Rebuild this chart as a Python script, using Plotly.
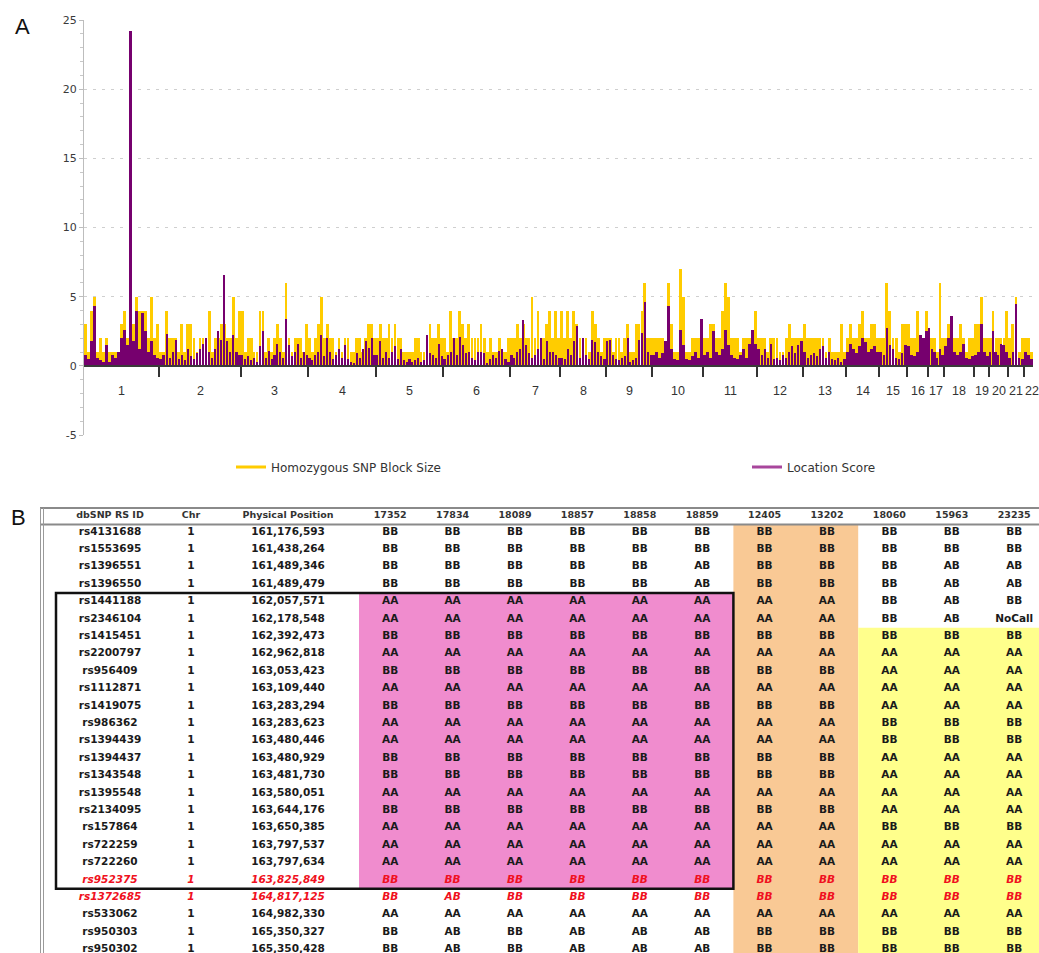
import plotly.graph_objects as go

# ------------------------------------------------------------------ Panel A data
chromosomes = [str(i) for i in range(1, 23)]
chrom_marker_counts = [825, 902, 737, 748, 737, 737, 550, 506, 506, 561, 594,
                       506, 473, 363, 308, 231, 176, 330, 165, 209, 176, 99]

# Homozygous SNP Block Size, samples evenly spaced along each chromosome
homozygous_block_size = [
    [3, 1, 4, 5, 1, 2, 1, 2, 1, 1, 1, 1, 3, 4, 2, 2, 3, 5, 4, 4, 4, 2, 5, 2, 3],
    [1, 1, 4, 2, 2, 2, 1, 3, 1, 3, 3, 2, 1, 2, 2, 2, 4, 1, 2, 2, 3, 3, 2, 2, 5, 2, 4],
    [4, 1, 2, 2, 1, 1, 4, 4, 1, 2, 1, 2, 3, 2, 1, 6, 2, 1, 2, 2, 2, 1, 3],
    [2, 1, 2, 3, 5, 2, 3, 2, 2, 1, 2, 1, 2, 2, 1, 1, 2, 2, 1, 2, 3, 3, 2],
    [2, 3, 2, 2, 3, 2, 3, 2, 2, 1, 1, 1, 1, 2, 2, 1, 1, 2, 3, 2, 2, 3, 2],
    [2, 1, 4, 2, 2, 4, 3, 2, 3, 2, 2, 2, 3, 2, 1, 2, 1, 1, 2, 1, 1, 2],
    [2, 2, 3, 2, 3, 2, 2, 5, 2, 4, 2, 2, 3, 4, 2, 4, 2],
    [4, 2, 4, 2, 4, 3, 2, 2, 2, 1, 4, 3, 2, 1, 2],
    [2, 2, 1, 2, 2, 1, 2, 3, 1, 1, 3, 3, 4, 6, 2, 2],
    [2, 2, 2, 2, 1, 6, 3, 1, 1, 7, 5, 1, 1, 2, 2, 2, 2],
    [2, 2, 3, 3, 2, 2, 4, 6, 5, 2, 2, 2, 1, 2, 2, 2, 1, 4],
    [2, 2, 2, 1, 2, 2, 2, 1, 1, 2, 3, 2, 2, 2, 2],
    [3, 2, 2, 2, 2, 2, 2, 1, 2, 1, 1, 1, 3, 1],
    [2, 3, 2, 2, 3, 4, 2, 2, 3, 3, 2],
    [2, 2, 6, 4, 2, 2, 1, 3, 3],
    [3, 2, 2, 4, 2, 2, 4],
    [2, 2, 2, 1, 6, 2],
    [2, 3, 3, 2, 2, 3, 2, 1, 2, 2],
    [3, 3, 5, 2, 2],
    [2, 4, 2, 2, 2, 2, 4],
    [2, 3, 5, 1, 2],
    [2, 2, 1],
]

# Location Score, same sample positions
location_score = [
    [0.8, 0.5, 1.8, 4.3, 0.6, 0.4, 0.3, 1.5, 0.3, 0.8, 0.6, 1.0, 2.0, 2.6, 1.5, 24.2, 1.8, 4.0, 1.2, 3.8, 2.5, 1.0, 1.8, 0.8, 0.6],
    [0.5, 0.8, 2.3, 0.6, 1.0, 1.9, 0.5, 0.8, 0.4, 1.2, 0.7, 0.5, 0.9, 1.2, 1.6, 2.0, 1.0, 0.6, 1.2, 2.5, 1.9, 6.6, 1.8, 1.0, 2.2, 1.0, 0.8],
    [0.8, 0.5, 0.7, 0.4, 0.6, 0.3, 1.4, 2.5, 0.6, 1.1, 0.5, 0.8, 1.6, 1.0, 0.6, 3.4, 1.5, 0.7, 1.0, 1.6, 0.6, 1.0, 0.8],
    [0.6, 0.4, 0.8, 1.0, 2.2, 0.7, 2.0, 1.0, 0.5, 0.8, 1.2, 0.6, 1.5, 0.5, 0.3, 0.2, 0.9, 0.6, 1.2, 1.8, 1.3, 2.0, 0.8],
    [0.8, 1.8, 0.6, 1.0, 0.6, 1.0, 1.4, 0.5, 1.2, 0.4, 0.3, 0.5, 0.3, 0.4, 0.6, 0.3, 0.4, 2.2, 0.9, 0.8, 0.6, 1.6, 0.7],
    [0.5, 0.8, 1.0, 2.0, 0.8, 2.1, 1.5, 0.9, 1.0, 0.6, 0.4, 1.0, 1.0, 0.9, 0.2, 0.5, 0.8, 0.6, 1.1, 1.2, 0.5, 0.3],
    [0.8, 0.6, 1.0, 1.2, 3.3, 1.5, 0.9, 0.6, 0.8, 1.2, 2.0, 0.5, 1.8, 1.0, 1.0, 0.8, 0.6],
    [0.6, 0.5, 1.2, 0.8, 1.8, 2.9, 0.6, 2.0, 0.8, 0.5, 1.9, 1.7, 1.0, 0.7, 0.5],
    [1.8, 1.9, 0.8, 0.5, 0.4, 0.6, 0.7, 2.0, 0.3, 0.4, 0.6, 1.9, 2.4, 4.6, 1.0, 0.8],
    [0.8, 1.0, 0.6, 0.9, 1.8, 4.3, 1.2, 0.5, 0.4, 2.6, 1.5, 0.5, 0.4, 0.7, 1.0, 0.6, 3.4],
    [0.8, 1.0, 0.6, 2.5, 1.0, 0.8, 1.2, 2.6, 1.5, 0.8, 0.6, 0.5, 0.8, 1.2, 0.6, 1.6, 2.6, 1.6],
    [1.2, 0.8, 1.2, 0.6, 1.6, 0.5, 0.6, 0.4, 0.8, 0.6, 1.0, 1.4, 0.9, 1.5, 1.8],
    [1.0, 0.6, 0.8, 0.9, 0.7, 1.2, 1.4, 0.6, 1.0, 0.5, 0.4, 0.6, 0.3, 0.5],
    [1.0, 1.6, 1.2, 0.9, 1.4, 2.0, 1.7, 1.0, 1.2, 1.4, 1.0],
    [1.0, 0.8, 2.7, 1.5, 1.2, 0.6, 0.5, 0.9, 1.5],
    [1.4, 0.8, 0.7, 1.0, 2.2, 2.0, 2.5],
    [2.7, 1.2, 1.0, 0.6, 1.2, 0.8],
    [1.4, 2.0, 3.6, 1.0, 0.8, 1.0, 1.6, 0.6, 0.5, 0.7],
    [0.8, 1.0, 3.0, 1.0, 0.7],
    [1.0, 2.5, 1.0, 0.8, 1.6, 1.5, 1.0],
    [0.6, 1.0, 4.5, 0.6, 0.5],
    [1.0, 0.8, 0.5],
]

y_tick_values = [-5, 0, 5, 10, 15, 20, 25]
y_tick_labels = ["-5", "0", "5", "10", "15", "20", "25"]

# ------------------------------------------------------------------ Panel B data
table_header_fixed = ["dbSNP RS ID", "Chr", "Physical Position"]
sample_ids = ["17352", "17834", "18089", "18857", "18858", "18859",
              "12405", "13202", "18060", "15963", "23235"]
snp_ids = ["rs4131688", "rs1553695", "rs1396551", "rs1396550", "rs1441188",
           "rs2346104", "rs1415451", "rs2200797", "rs956409", "rs1112871",
           "rs1419075", "rs986362", "rs1394439", "rs1394437", "rs1343548",
           "rs1395548", "rs2134095", "rs157864", "rs722259", "rs722260",
           "rs952375", "rs1372685", "rs533062", "rs950303", "rs950302"]
snp_chr = ["1"] * 25
snp_positions = ["161,176,593", "161,438,264", "161,489,346", "161,489,479",
                 "162,057,571", "162,178,548", "162,392,473", "162,962,818",
                 "163,053,423", "163,109,440", "163,283,294", "163,283,623",
                 "163,480,446", "163,480,929", "163,481,730", "163,580,051",
                 "163,644,176", "163,650,385", "163,797,537", "163,797,634",
                 "163,825,849", "164,817,125", "164,982,330", "165,350,327",
                 "165,350,428"]
genotypes = [
    "BB BB BB BB BB BB BB BB BB BB BB",
    "BB BB BB BB BB BB BB BB BB BB BB",
    "BB BB BB BB BB AB BB BB BB AB AB",
    "BB BB BB BB BB AB BB BB BB AB AB",
    "AA AA AA AA AA AA AA AA BB AB BB",
    "AA AA AA AA AA AA AA AA BB AB NoCall",
    "BB BB BB BB BB BB BB BB BB BB BB",
    "AA AA AA AA AA AA AA AA AA AA AA",
    "BB BB BB BB BB BB BB BB AA AA AA",
    "AA AA AA AA AA AA AA AA AA AA AA",
    "BB BB BB BB BB BB BB BB AA AA AA",
    "AA AA AA AA AA AA AA AA BB BB BB",
    "AA AA AA AA AA AA AA AA BB BB BB",
    "BB BB BB BB BB BB BB BB AA AA AA",
    "BB BB BB BB BB BB BB BB AA AA AA",
    "AA AA AA AA AA AA AA AA AA AA AA",
    "BB BB BB BB BB BB BB BB AA AA AA",
    "AA AA AA AA AA AA AA AA BB BB BB",
    "AA AA AA AA AA AA AA AA AA AA AA",
    "AA AA AA AA AA AA AA AA AA AA AA",
    "BB BB BB BB BB BB BB BB BB BB BB",
    "BB AB BB BB BB BB BB BB BB BB BB",
    "AA AA AA AA AA AA AA AA AA AA AA",
    "BB AB BB AB AB AB BB BB BB BB BB",
    "BB AB BB AB AB AB BB BB BB BB BB",
]
highlight_rows = [20, 21]          # rows printed in red italics
# shaded blocks: (first row, last row, first sample, last sample, colour)
shaded_blocks = [
    (4, 20, 0, 5, "#F08CCE"),
    (-1, 24, 6, 7, "#F9C995"),
    (6, 24, 8, 10, "#FFFF8C"),
]
boxed_rows = (4, 20)               # black frame around these rows

# ------------------------------------------------------------------ layout geometry
W, H = 1039, 953
YELLOW = "#FFCC00"
PURPLE = "#76006E"


def px_x(p):
    return p / W


def px_y(p):
    return 1 - p / H


chart_x_dom = [px_x(84), px_x(1033)]
chart_y_dom = [px_y(435), px_y(20)]
y_range = [-5, 25]
zero_pos = chart_y_dom[0] + (chart_y_dom[1] - chart_y_dom[0]) * (0 - y_range[0]) / (y_range[1] - y_range[0])

# bars
starts = [0]
for c in chrom_marker_counts:
    starts.append(starts[-1] + c)
total_markers = starts[-1]
markers_per_px = total_markers / (1033 - 84)

bx, bw, yb, yl = [], [], [], []
for ci, count in enumerate(chrom_marker_counts):
    vb = homozygous_block_size[ci]
    vl = location_score[ci]
    assert len(vb) == len(vl)
    step = count / len(vb)
    for i in range(len(vb)):
        bx.append(starts[ci] + (i + 0.5) * step)
        bw.append(step)
        yb.append(vb[i])
        yl.append(vl[i])

fig = go.Figure()
fig.add_trace(go.Bar(x=bx, y=yb, width=[w * 0.92 for w in bw], marker=dict(color=YELLOW, line=dict(width=0)),
                     showlegend=False, xaxis="x", yaxis="y", hoverinfo="skip"))
fig.add_trace(go.Bar(x=bx, y=yl, width=[w * 0.7 for w in bw], marker=dict(color=PURPLE, line=dict(width=0)),
                     showlegend=False, xaxis="x", yaxis="y", hoverinfo="skip"))
fig.add_trace(go.Scatter(x=[None], y=[None], mode="lines", line=dict(color=YELLOW, width=3),
                         name="Homozygous SNP Block Size", xaxis="x", yaxis="y", legend="legend"))
fig.add_trace(go.Scatter(x=[None], y=[None], mode="lines", line=dict(color="#A8469C", width=3),
                         name="Location Score", xaxis="x", yaxis="y", legend="legend2"))

annotations = []
for ci, name in enumerate(chromosomes):
    lx = (starts[ci] + starts[ci + 1]) / 2
    if ci == len(chromosomes) - 1:
        lx += 3.5 * markers_per_px      # last label sits a little right, as in the original
    annotations.append(dict(x=lx, y=-1.8, xref="x", yref="y",
                            text=name, showarrow=False, xanchor="center", yanchor="middle",
                            font=dict(family="Liberation Sans", size=12.5, color="#333333")))
annotations.append(dict(x=px_x(22), y=px_y(27), xref="paper", yref="paper", text="A",
                        xanchor="center", yanchor="middle",
                        showarrow=False, font=dict(family="Liberation Sans", size=22, color="#111111")))
annotations.append(dict(x=px_x(18), y=px_y(517), xref="paper", yref="paper", text="B",
                        xanchor="center", yanchor="middle",
                        showarrow=False, font=dict(family="Liberation Sans", size=22, color="#111111")))

# ------------------------------------------------------------------ table (panel B)
GC = 62.4          # genotype column width in px
GX0 = 359          # left edge of first genotype column in px
ROW = 17.4         # row pitch in px
ROW0 = 532         # centre of first data row in px
TOP = 507          # top of table axes in px


def tx(p):
    return (p - GX0) / GC


def ty(p):
    return (p - ROW0) / ROW


fixed_col_x = [tx(110), tx(191), tx(288)]
sample_col_x = [k + 0.5 for k in range(len(sample_ids))]

shapes = []
for (r0, r1, c0, c1, col) in shaded_blocks:
    y0 = r0 - 0.5 if r0 >= 0 else ty(524)
    y1 = r1 + 0.5 if r1 < len(snp_ids) - 1 else ty(H + 5)
    shapes.append(dict(type="rect", xref="x2", yref="y2", x0=c0, x1=c1 + 1, y0=y0, y1=y1,
                       fillcolor=col, line=dict(width=0), layer="below"))
# frame
shapes.append(dict(type="rect", xref="x2", yref="y2", x0=tx(56), x1=6, y0=boxed_rows[0] - 0.5,
                   y1=boxed_rows[1] + 0.5, line=dict(color="#111111", width=2.5), fillcolor="rgba(0,0,0,0)"))
# header rules and left border
for yy, lw in [(508, 2.2), (524.5, 2.0)]:
    shapes.append(dict(type="line", xref="x2", yref="y2", x0=tx(40), x1=tx(W), y0=ty(yy), y1=ty(yy),
                       line=dict(color="#8a8a8a", width=lw)))
for xx in [40.5, 43.5]:
    shapes.append(dict(type="line", xref="x2", yref="y2", x0=tx(xx), x1=tx(xx), y0=ty(508), y1=ty(H + 5),
                       line=dict(color="#9a9a9a", width=1)))

# header text
hx = fixed_col_x + sample_col_x
htxt = table_header_fixed + sample_ids
fig.add_trace(go.Scatter(x=hx, y=[ty(516)] * len(hx), text=htxt, mode="text", xaxis="x2", yaxis="y2",
                         showlegend=False, hoverinfo="skip",
                         textfont=dict(family="DejaVu Sans", size=9.5, color="#333333", weight="bold")))

norm_x, norm_y, norm_t, red_x, red_y, red_t = [], [], [], [], [], []
for r, sid in enumerate(snp_ids):
    cells = [sid, snp_chr[r], snp_positions[r]] + genotypes[r].split()
    xs = fixed_col_x + sample_col_x
    for x, t in zip(xs, cells):
        if r in highlight_rows:
            red_x.append(x); red_y.append(r); red_t.append(t)
        else:
            norm_x.append(x); norm_y.append(r); norm_t.append(t)

fig.add_trace(go.Scatter(x=norm_x, y=norm_y, text=norm_t, mode="text", xaxis="x2", yaxis="y2",
                         showlegend=False, hoverinfo="skip", cliponaxis=False,
                         textfont=dict(family="DejaVu Sans", size=10.5, color="#1a1a1a", weight="bold")))
fig.add_trace(go.Scatter(x=red_x, y=red_y, text=red_t, mode="text", xaxis="x2", yaxis="y2",
                         showlegend=False, hoverinfo="skip", cliponaxis=False,
                         textfont=dict(family="DejaVu Sans", size=10.5, color="#F01020", weight="bold",
                                       style="italic")))

legend_common = dict(orientation="h", y=px_y(467), xanchor="left", yanchor="middle",
                     bgcolor="rgba(0,0,0,0)", font=dict(family="DejaVu Sans", size=12, color="#333333"))

fig.update_layout(
    width=W, height=H,
    margin=dict(l=0, r=0, t=0, b=0, pad=0, autoexpand=False),
    paper_bgcolor="white", plot_bgcolor="rgba(0,0,0,0)",
    barmode="overlay", bargap=0,
    font=dict(family="DejaVu Sans", color="#333333"),
    xaxis=dict(domain=chart_x_dom, range=[0, total_markers], anchor="free", position=zero_pos,
               automargin=False,
               showline=True, linecolor="#3a3a3a", linewidth=1.5,
               tickmode="array", tickvals=starts[1:-1], ticks="outside", ticklen=10, tickwidth=2,
               tickcolor="#333333", showticklabels=False, showgrid=False, zeroline=False),
    yaxis=dict(domain=chart_y_dom, range=y_range, anchor="x", automargin=False,
               tickmode="array", tickvals=y_tick_values, ticktext=y_tick_labels,
               showgrid=True, gridcolor="#cfcfcf", griddash="3px,6px", gridwidth=1,
               zeroline=False, showline=True, linecolor="#bdbdbd", linewidth=1,
               ticks="outside", ticklen=4, tickcolor="#bdbdbd",
               minor=dict(dtick=1, tick0=0, ticks="outside", ticklen=3, tickcolor="#c8c8c8", showgrid=False),
               tickfont=dict(family="DejaVu Sans", size=11, color="#3a3a3a")),
    xaxis2=dict(domain=[0, 1], range=[tx(0), tx(W)], anchor="y2", visible=False, automargin=False),
    yaxis2=dict(domain=[0, px_y(TOP)], range=[ty(H), ty(TOP)], anchor="x2", visible=False, automargin=False),
    showlegend=True,
    legend=dict(x=px_x(231), **legend_common),
    legend2=dict(x=px_x(747), **legend_common),
    annotations=annotations,
    shapes=shapes,
)

fig.write_html("out.html", config={"displayModeBar": False},
               post_script="document.body.style.margin='0px';")
